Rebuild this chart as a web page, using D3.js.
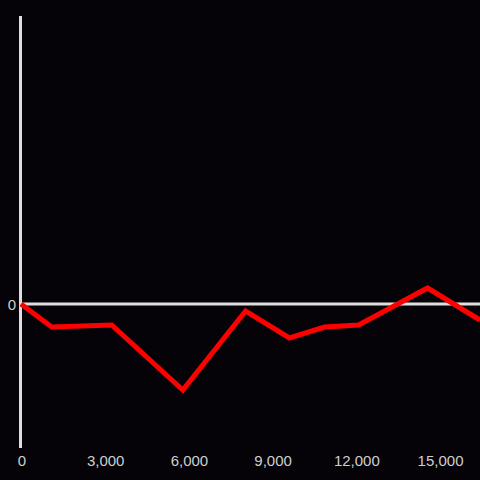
<!DOCTYPE html>
<html>
<head>
<meta charset="utf-8">
<script src="https://cdn.jsdelivr.net/npm/d3@7"></script>
<style>
html,body{margin:0;padding:0;background:#050308;}
svg{display:block;}
</style>
</head>
<body>
<svg id="chart" width="480" height="480"></svg>
<script>
const xValues = [0, 1100, 3250, 5800, 8050, 9620, 10880, 12100, 14570, 16450];
const yValues = [0, -23, -21, -86, -7, -34, -23, -21, 16, -16];
const xTicks = [0, 3000, 6000, 9000, 12000, 15000];
const yTicks = [0];

const svg = d3.select("#chart");
const W = 480, H = 480;
svg.append("rect").attr("width", W).attr("height", H).attr("fill", "#050308");

const x = d3.scaleLinear().domain([0, 16450]).range([21, 480]);
const y = d3.scaleLinear().domain([-144, 288]).range([448, 16]);

// y axis line
svg.append("line")
  .attr("x1", 20.5).attr("x2", 20.5)
  .attr("y1", y(288)).attr("y2", y(-144))
  .attr("stroke", "#dedede").attr("stroke-width", 3);

// zero line
svg.append("line")
  .attr("x1", 22).attr("x2", W)
  .attr("y1", y(0)).attr("y2", y(0))
  .attr("stroke", "#dedede").attr("stroke-width", 3);

// x tick labels
const fmt = d3.format(",");
svg.append("g").selectAll("text").data(xTicks).join("text")
  .attr("x", d => x(d) + 1)
  .attr("y", 466)
  .attr("text-anchor", "middle")
  .attr("fill", "#cfcfcf")
  .attr("font-family", "Liberation Sans, Arial, sans-serif")
  .attr("font-size", 15)
  .text(d => fmt(d));

// y tick labels
svg.append("g").selectAll("text").data(yTicks).join("text")
  .attr("x", 16)
  .attr("y", d => y(d) + 5.5)
  .attr("text-anchor", "end")
  .attr("fill", "#cfcfcf")
  .attr("font-family", "Liberation Sans, Arial, sans-serif")
  .attr("font-size", 15)
  .text(d => d);

// red line
const line = d3.line().x((d, i) => x(xValues[i])).y(d => y(d));
svg.append("path")
  .datum(yValues)
  .attr("d", line)
  .attr("fill", "none")
  .attr("stroke", "#ff0000")
  .attr("stroke-width", 5)
  .attr("stroke-linejoin", "miter");
</script>
</body>
</html>
